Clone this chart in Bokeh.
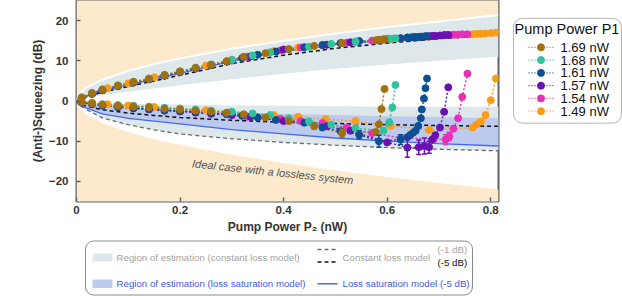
from bokeh.plotting import figure
from bokeh.layouts import column, row
from bokeh.models import Range1d, FixedTicker
from bokeh.core.properties import value
from bokeh.embed import file_html
from bokeh.resources import INLINE

FONT = "Liberation Sans"

# ---------------- model curves ----------------
P_model = [0, 0.005, 0.02, 0.05, 0.1, 0.15, 0.2, 0.3, 0.4, 0.5, 0.6, 0.7, 0.815]
ideal_up = [0, 1.7, 3.4, 5.3, 7.5, 9.2, 10.6, 13.0, 15.0, 16.8, 18.4, 19.8, 21.4]
ideal_lo = [0, -1.7, -3.5, -5.5, -7.7, -9.5, -10.9, -13.4, -15.4, -17.3, -18.9, -20.4, -22.0]
grayband_up_low = [0, 0.2, 0.7, 1.4, 2.3, 3.1, 3.9, 5.4, 6.8, 8.0, 9.1, 10.0, 11.0]
const5_up = [0, 0.4, 1.1, 2.2, 3.6, 5.0, 6.4, 9.3, 11.4, 13.1, 14.4, 15.5, 16.4]
sat5_up = [0, 0.5, 1.3, 2.5, 4.0, 5.4, 6.9, 9.9, 12.3, 14.0, 15.1, 16.0, 16.9]
grayband_lo_top = [0, -0.1, -0.3, -0.5, -0.7, -0.8, -0.9, -1.1, -1.2, -1.3, -1.4, -1.4, -1.4]
const1_lo = [0, -1.0, -2.2, -4.2, -5.9, -7.2, -8.2, -9.4, -10.3, -11.0, -11.6, -12.0, -12.4]
const5_lo = [0, -0.6, -1.3, -2.2, -3.0, -3.6, -4.1, -4.8, -5.3, -5.6, -5.9, -6.1, -6.3]
sat5_lo = [0, -0.8, -1.8, -3.2, -4.3, -5.0, -5.7, -7.1, -8.2, -9.2, -10.0, -10.6, -11.2]
blueband_lo_top = [0, -0.2, -0.7, -1.2, -1.7, -2.0, -2.3, -2.8, -3.2, -3.5, -3.8, -4.0, -4.3]

# ---------------- measured series ----------------
labels = ["1.69 nW", "1.68 nW", "1.61 nW", "1.57 nW", "1.54 nW", "1.49 nW"]
colors = ["#a3700f", "#2fc29d", "#0e4f94", "#6a12b0", "#e630b8", "#fb9c17"]

P_b = [0.01, 0.03, 0.05, 0.08, 0.11, 0.14, 0.17, 0.20, 0.23, 0.26, 0.29, 0.323, 0.365, 0.41, 0.459, 0.513, 0.578, 0.584, 0.589, 0.595]
low_b = [-0.3, -0.6, -0.9, -1.2, -1.4, -1.6, -1.9, -2.1, -2.4, -2.6, -2.9, -3.3, -4.1, -5.0, -6.3, -8.0, -7.7, -5.8, -2.0, 3.0]
up_b = [0.8, 1.9, 2.8, 3.8, 4.7, 5.5, 6.4, 7.3, 8.2, 9.0, 9.9, 11.0, 11.9, 12.9, 13.7, 14.4, 15.1, 15.2, 15.2, 15.3]

P_t = [0.01, 0.03, 0.05, 0.08, 0.11, 0.14, 0.17, 0.20, 0.23, 0.26, 0.30, 0.34, 0.374, 0.41, 0.449, 0.492, 0.539, 0.593, 0.604, 0.61, 0.616]
low_t = [-0.2, -0.5, -0.8, -1.0, -1.2, -1.4, -1.7, -1.9, -2.1, -2.4, -2.7, -3.1, -3.5, -4.3, -5.1, -5.9, -6.8, -7.4, -5.3, -1.6, 4.0]
up_t = [0.9, 2.0, 2.9, 3.9, 4.8, 5.6, 6.5, 7.4, 8.3, 9.1, 10.2, 11.3, 12.1, 12.9, 13.5, 14.2, 14.8, 15.4, 15.5, 15.5, 15.6]

P_bl = [0.01, 0.03, 0.05, 0.08, 0.11, 0.14, 0.17, 0.20, 0.23, 0.26, 0.29, 0.32, 0.35, 0.385, 0.44, 0.475, 0.51, 0.546, 0.584, 0.626, 0.639, 0.645, 0.65, 0.655, 0.66, 0.665, 0.667, 0.671, 0.674, 0.677]
low_bl = [-0.4, -0.8, -1.1, -1.5, -1.8, -2.0, -2.3, -2.5, -2.7, -3.0, -3.3, -3.7, -4.1, -4.7, -5.4, -6.6, -7.5, -8.4, -10.0, -9.6, -9.0, -8.4, -7.9, -7.4, -6.2, -4.3, -2.1, 0.6, 3.2, 5.6]
up_bl = [0.8, 1.8, 2.7, 3.7, 4.6, 5.4, 6.3, 7.2, 8.1, 8.9, 9.8, 10.7, 11.5, 12.3, 13.4, 13.9, 14.4, 14.9, 15.2, 15.6, 15.8, 15.8, 15.9, 15.9, 15.9, 16.0, 16.0, 16.0, 16.1, 16.1]

P_pu = [0.01, 0.03, 0.05, 0.08, 0.11, 0.14, 0.17, 0.20, 0.23, 0.26, 0.30, 0.336, 0.40, 0.484, 0.529, 0.60, 0.639, 0.661, 0.672, 0.681, 0.687, 0.693, 0.702, 0.71, 0.718]
low_pu = [-0.4, -0.8, -1.1, -1.5, -1.8, -2.1, -2.4, -2.6, -2.9, -3.2, -3.5, -3.9, -5.0, -6.3, -7.4, -10.3, -11.6, -11.5, -11.2, -11.5, -9.6, -8.5, -6.6, -2.7, 3.4]
up_pu = [0.8, 1.8, 2.7, 3.7, 4.6, 5.4, 6.3, 7.2, 8.1, 8.9, 10.1, 11.1, 12.8, 14.0, 14.6, 15.4, 15.7, 15.9, 16.0, 16.1, 16.2, 16.2, 16.3, 16.4, 16.4]

P_pk = [0.01, 0.03, 0.05, 0.08, 0.11, 0.14, 0.17, 0.20, 0.23, 0.26, 0.30, 0.33, 0.394, 0.433, 0.475, 0.522, 0.571, 0.626, 0.69, 0.713, 0.72, 0.728, 0.737, 0.745, 0.755]
low_pk = [-0.4, -0.7, -1.0, -1.4, -1.7, -2.0, -2.2, -2.5, -2.7, -3.0, -3.4, -3.9, -4.5, -5.0, -5.5, -6.6, -8.0, -9.2, -9.4, -9.6, -8.8, -6.9, -4.3, 1.0, 6.8]
up_pk = [0.8, 1.9, 2.8, 3.8, 4.7, 5.5, 6.4, 7.3, 8.2, 9.0, 10.1, 11.0, 12.6, 13.3, 13.9, 14.5, 15.0, 15.6, 16.2, 16.4, 16.4, 16.5, 16.5, 16.6, 16.6]

P_o = [0.01, 0.03, 0.06, 0.10, 0.15, 0.20, 0.25, 0.30, 0.381, 0.428, 0.481, 0.539, 0.607, 0.681, 0.765, 0.773, 0.781, 0.79, 0.80, 0.81]
low_o = [-0.2, -0.4, -0.8, -1.1, -1.5, -1.9, -2.3, -2.7, -3.5, -3.9, -4.5, -5.0, -6.2, -7.2, -6.6, -5.8, -5.1, -3.5, 0.2, 5.6]
up_o = [0.9, 2.0, 3.2, 4.4, 5.9, 7.4, 8.8, 10.3, 12.4, 13.3, 14.0, 14.7, 15.4, 16.0, 16.6, 16.7, 16.7, 16.8, 16.9, 17.0]

series_P = [P_b, P_t, P_bl, P_pu, P_pk, P_o]
series_low = [low_b, low_t, low_bl, low_pu, low_pk, low_o]
series_up = [up_b, up_t, up_bl, up_pu, up_pk, up_o]

# error bars (series index, P, centre, half-length)
err_idx = [0, 2, 2, 2, 3, 3, 3, 3, 4, 4]
err_P = [0.513, 0.546, 0.584, 0.626, 0.639, 0.661, 0.672, 0.681, 0.713, 0.72]
err_mid = [-8.0, -8.4, -10.0, -9.6, -11.6, -11.5, -11.2, -11.5, -9.6, -8.8]
err_half = [1.0, 1.0, 1.5, 1.2, 2.4, 1.8, 2.0, 1.5, 1.2, 1.0]

x_ticks = [0, 0.2, 0.4, 0.6, 0.8]
y_ticks = [-20, -10, 0, 10, 20]

ORANGE = "#fdeacc"
GRAY = "#dee8ea"
BLUEF = "#bccaee"
BLUEL = "#4568ef"
FRAME = "#5f6468"

# ---------------- main figure ----------------
p = figure(width=504, height=236, x_range=Range1d(0, 0.815), y_range=Range1d(-25, 25),
           output_backend="svg", toolbar_location=None,
           min_border_left=76, min_border_right=6, min_border_top=0, min_border_bottom=29)
p.outline_line_color = FRAME
p.outline_line_width = 2
p.grid.visible = False
p.background_fill_color = "white"

p.xaxis.ticker = FixedTicker(ticks=x_ticks)
p.xaxis.major_label_overrides = {0: "0", 0.2: "0.2", 0.4: "0.4", 0.6: "0.6", 0.8: "0.8"}
p.yaxis.ticker = FixedTicker(ticks=y_ticks)
p.axis.axis_line_color = None
p.axis.major_tick_in = 4
p.axis.major_tick_out = 0
p.axis.major_tick_line_color = FRAME
p.axis.major_tick_line_width = 1.5
p.axis.minor_tick_line_color = None
p.axis.major_label_text_font = FONT
p.axis.major_label_text_font_style = "bold"
p.axis.major_label_text_font_size = "11.5px"
p.axis.major_label_text_color = "#333333"
p.yaxis.major_label_standoff = 8
p.xaxis.major_label_standoff = 4
p.axis.axis_label_text_font = FONT
p.axis.axis_label_text_font_style = "bold"
p.axis.axis_label_text_font_size = "12px"
p.axis.axis_label_text_color = "#333333"
p.xaxis.axis_label = "Pump Power P\u2082 (nW)"
p.yaxis.axis_label = "(Anti-)Squeezing (dB)"
p.xaxis.axis_label_standoff = 3
p.yaxis.axis_label_standoff = 1

# ideal regions (orange)
p.varea(x=P_model, y1=ideal_up, y2=[30] * len(P_model), fill_color=ORANGE)
p.varea(x=P_model, y1=ideal_lo, y2=[-30] * len(P_model), fill_color=ORANGE)
# constant-loss estimation regions (gray)
p.varea(x=P_model, y1=grayband_up_low, y2=ideal_up, fill_color=GRAY)
p.varea(x=P_model, y1=const1_lo, y2=grayband_lo_top, fill_color=GRAY)
# loss-saturation region (blue)
p.varea(x=P_model, y1=sat5_lo, y2=blueband_lo_top, fill_color=BLUEF)
p.line(P_model, ideal_up, line_color="white", line_width=2)

# model lines
p.line(P_model, const1_lo, line_color="#6a6a6a", line_width=1.3, line_dash="4 3")
p.line(P_model, const5_lo, line_color="#111111", line_width=1.5, line_dash="4 3")
p.line(P_model, const5_up, line_color="#111111", line_width=1.5, line_dash="4 3")
p.line(P_model, sat5_lo, line_color=BLUEL, line_width=1.3)
p.line(P_model, sat5_up, line_color=BLUEL, line_width=1.3)

p.text(x=[0.379], y=[-17.6], text=["Ideal case with a lossless system"], angle=-0.105,
       text_font=value(FONT), text_font_style="italic", text_font_size="11px",
       text_color="#505050", text_align="center", text_baseline="middle")

# data
order = [5, 4, 3, 2, 1, 0]
for i in order:
    c = colors[i]
    p.line(series_P[i], series_low[i], line_color=c, line_width=1.4, line_dash="2 2")
    p.line(series_P[i], series_up[i], line_color=c, line_width=1.4, line_dash="2 2")
for i in order:
    c = colors[i]
    p.scatter(series_P[i], series_low[i], size=7, fill_color=c, line_color=c)
    p.scatter(series_P[i], series_up[i], size=7, fill_color=c, line_color=c)

ecol = [colors[k] for k in err_idx]
etop = [m + h for m, h in zip(err_mid, err_half)]
ebot = [m - h for m, h in zip(err_mid, err_half)]
p.segment(x0=err_P, y0=ebot, x1=err_P, y1=etop, line_color=ecol, line_width=1.5)
p.segment(x0=[x - 0.005 for x in err_P], y0=etop, x1=[x + 0.005 for x in err_P], y1=etop, line_color=ecol, line_width=1.5)
p.segment(x0=[x - 0.005 for x in err_P], y0=ebot, x1=[x + 0.005 for x in err_P], y1=ebot, line_color=ecol, line_width=1.5)

# ---------------- right legend ----------------
lg = figure(width=118, height=236, x_range=Range1d(0, 118), y_range=Range1d(236, 0),
            x_axis_location=None, y_axis_location=None, output_backend="svg",
            toolbar_location=None, min_border=0, min_border_left=0, min_border_right=0,
            min_border_top=0, min_border_bottom=0, outline_line_color=None)
lg.grid.visible = False
lg.quad(left=[9], right=[117], top=[21], bottom=[144], fill_color="white",
        line_color="#b5b5b5", line_width=1, border_radius=9)
lg.text(x=[62.5], y=[33], text=["Pump Power P1"], text_font=value(FONT), text_font_size="14.5px",
        text_color="#111111", text_align="center", text_baseline="middle")
ys = [55, 70, 85, 100, 115, 130]
for i in range(6):
    lg.line([24, 49], [ys[i], ys[i]], line_color=colors[i], line_width=1.3, line_dash="1 2")
    lg.scatter([36.5], [ys[i]], size=7, fill_color=colors[i], line_color=colors[i])
lg.text(x=[56] * 6, y=ys, text=labels, text_font=value(FONT), text_font_size="13px",
        text_color="#111111", text_align="left", text_baseline="middle")

# ---------------- bottom legend ----------------
bl = figure(width=504, height=60, x_range=Range1d(0, 504), y_range=Range1d(60, 0),
            x_axis_location=None, y_axis_location=None, output_backend="svg",
            toolbar_location=None, min_border=0, min_border_left=0, min_border_right=0,
            min_border_top=0, min_border_bottom=0, outline_line_color=None)
bl.grid.visible = False
bl.quad(left=[85], right=[472], top=[4.5], bottom=[58.5], fill_color="white",
        line_color="#8a8a8a", line_width=1, border_radius=8)
bl.quad(left=[92], right=[112], top=[17], bottom=[25], fill_color=GRAY, line_color=None)
bl.quad(left=[92], right=[112], top=[43], bottom=[51.5], fill_color=BLUEF, line_color=None)
bl.line([317, 337], [13, 13], line_color="#6a6a6a", line_width=1.3, line_dash="4 3")
bl.line([317, 337], [25.5, 25.5], line_color="#111111", line_width=1.5, line_dash="4 3")
bl.line([317, 337], [47.3, 47.3], line_color=BLUEL, line_width=1.5)
bl.text(x=[116, 342, 437], y=[21.3, 20.7, 13],
        text=["Region of estimation (constant loss model)", "Constant loss model", "(-1 dB)"],
        text_font=value(FONT), text_font_size="9.7px", text_color="#a3a3a3",
        text_align="left", text_baseline="middle")
bl.text(x=[437], y=[25.7], text=["(-5 dB)"], text_font=value(FONT), text_font_size="9.7px",
        text_color="#111111", text_align="left", text_baseline="middle")
bl.text(x=[116, 342], y=[47.3, 47.3],
        text=["Region of estimation (loss saturation model)", "Loss saturation model (-5 dB)"],
        text_font=value(FONT), text_font_size="9.7px", text_color="#3f5ae6",
        text_align="left", text_baseline="middle")

layout = column(row(p, lg), bl)
open("out.html", "w").write(file_html(layout, INLINE))
